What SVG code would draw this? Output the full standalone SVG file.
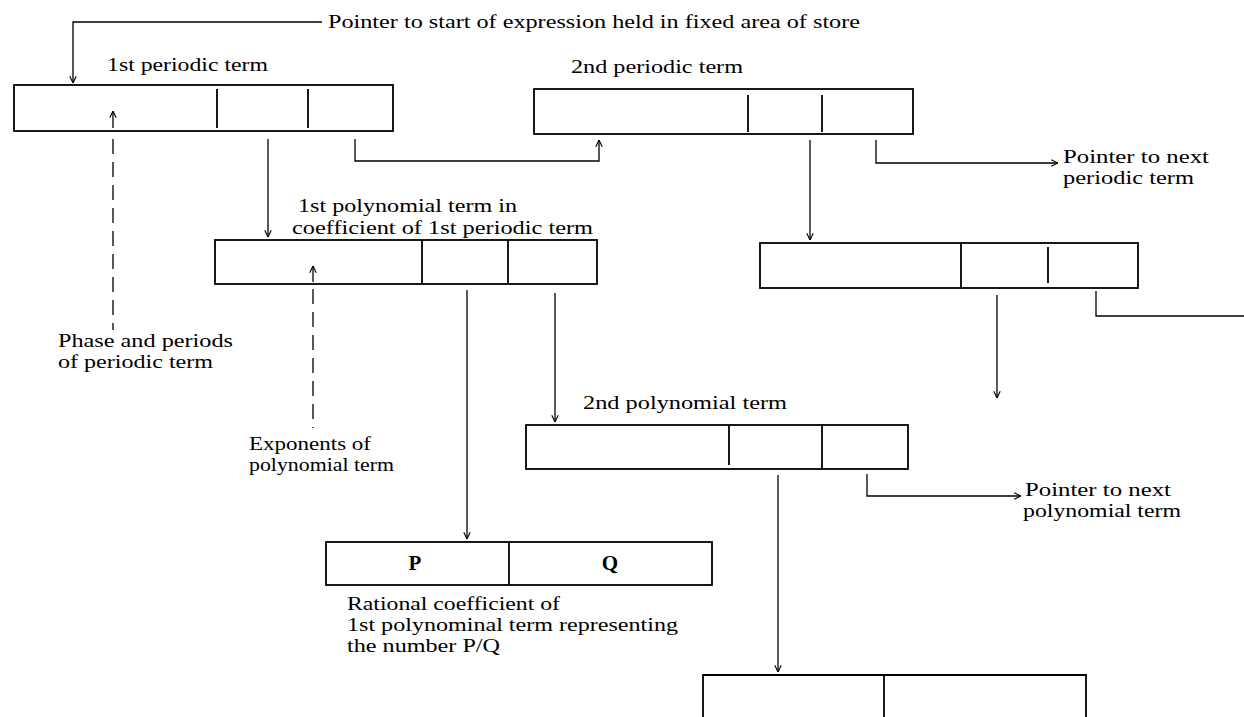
<svg xmlns="http://www.w3.org/2000/svg" width="1244" height="717" viewBox="0 0 1244 717">
<defs>
<marker id="ah" viewBox="0 0 10 10" refX="9.5" refY="5" markerWidth="8" markerHeight="8" markerUnits="userSpaceOnUse" orient="auto"><path d="M1,1 L9.5,5 L1,9" fill="none" stroke="#000" stroke-width="1.4"/></marker>
</defs>
<style>
.box{fill:none;stroke:#000;stroke-width:1.8}
.dv{stroke:#000;stroke-width:1.8}
.c{fill:none;stroke:#000;stroke-width:1.3}
.a{marker-end:url(#ah)}
.d{stroke-dasharray:15 8}
text{font-family:"Liberation Serif","Times New Roman",serif;font-size:19px;fill:#000}
.b{font-weight:bold;font-size:21px}
</style>
<rect width="1244" height="717" fill="#fff"/>
<g id="title">
<text x="328" y="28" textLength="532" lengthAdjust="spacingAndGlyphs">Pointer to start of expression held in fixed area of store</text>
</g>
<g id="periodic1">
<text x="107" y="71" textLength="161" lengthAdjust="spacingAndGlyphs">1st periodic term</text>
<rect class="box" x="14" y="85" width="379" height="46"/>
<line class="dv" x1="217" y1="89" x2="217" y2="128"/>
<line class="dv" x1="308" y1="89" x2="308" y2="128"/>
</g>
<g id="periodic2">
<text x="571" y="73" textLength="172" lengthAdjust="spacingAndGlyphs">2nd periodic term</text>
<rect class="box" x="534" y="89" width="379" height="45"/>
<line class="dv" x1="748" y1="95" x2="748" y2="132"/>
<line class="dv" x1="822" y1="95" x2="822" y2="132"/>
</g>
<g id="periodic2-coef">
<rect class="box" x="760" y="243" width="378" height="45"/>
<line class="dv" x1="961" y1="243" x2="961" y2="288"/>
<line class="dv" x1="1048" y1="247" x2="1048" y2="283"/>
</g>
<g id="poly1">
<text x="298" y="212" textLength="219" lengthAdjust="spacingAndGlyphs">1st polynomial term in</text>
<text x="292" y="234" textLength="301" lengthAdjust="spacingAndGlyphs">coefficient of 1st periodic term</text>
<rect class="box" x="215" y="240" width="382" height="44"/>
<line class="dv" x1="422" y1="240" x2="422" y2="284"/>
<line class="dv" x1="508" y1="240" x2="508" y2="284"/>
</g>
<g id="poly2">
<text x="583" y="409" textLength="204" lengthAdjust="spacingAndGlyphs">2nd polynomial term</text>
<rect class="box" x="526" y="425" width="382" height="44"/>
<line class="dv" x1="729" y1="425" x2="729" y2="465"/>
<line class="dv" x1="822" y1="425" x2="822" y2="469"/>
</g>
<g id="rational">
<rect class="box" x="326" y="542" width="386" height="43"/>
<line class="dv" x1="509" y1="542" x2="509" y2="585"/>
<text class="b" x="415" y="570" text-anchor="middle">P</text>
<text class="b" x="610" y="570" text-anchor="middle">Q</text>
<text x="347" y="610" textLength="213" lengthAdjust="spacingAndGlyphs">Rational coefficient of</text>
<text x="347" y="631" textLength="331" lengthAdjust="spacingAndGlyphs">1st polynominal term representing</text>
<text x="347" y="652" textLength="153" lengthAdjust="spacingAndGlyphs">the number P/Q</text>
</g>
<g id="poly2-coef">
<path class="box" d="M703,720 V675 H1086 V720"/>
<line class="dv" x1="884" y1="675" x2="884" y2="720"/>
</g>
<g id="labels">
<text x="58" y="347" textLength="175" lengthAdjust="spacingAndGlyphs">Phase and periods</text>
<text x="58" y="368" textLength="155" lengthAdjust="spacingAndGlyphs">of periodic term</text>
<text x="249" y="450" textLength="122" lengthAdjust="spacingAndGlyphs">Exponents of</text>
<text x="249" y="471" textLength="145" lengthAdjust="spacingAndGlyphs">polynomial term</text>
<text x="1063" y="163" textLength="146" lengthAdjust="spacingAndGlyphs">Pointer to next</text>
<text x="1063" y="184" textLength="131" lengthAdjust="spacingAndGlyphs">periodic term</text>
<text x="1025" y="496" textLength="146" lengthAdjust="spacingAndGlyphs">Pointer to next</text>
<text x="1023" y="517" textLength="158" lengthAdjust="spacingAndGlyphs">polynomial term</text>
</g>
<g id="connectors">
<path class="c a" d="M322,22 H73 V83"/>
<path class="c a" d="M113,128 V111"/>
<path class="c d" d="M113,139 V330"/>
<path class="c a" d="M268,139 V237"/>
<path class="c a" d="M355,139 V161 H599 V140"/>
<path class="c a" d="M810,140 V240"/>
<path class="c a" d="M876,140 V163 H1058"/>
<path class="c a" d="M997,295 V398"/>
<path class="c" d="M1096,291 V316 H1244"/>
<path class="c a" d="M313,282 V266"/>
<path class="c d" d="M313,289 V428"/>
<path class="c a" d="M467,290 V539"/>
<path class="c a" d="M555,293 V422"/>
<path class="c a" d="M867,474 V496 H1021"/>
<path class="c a" d="M778,475 V672"/>
</g>
</svg>
